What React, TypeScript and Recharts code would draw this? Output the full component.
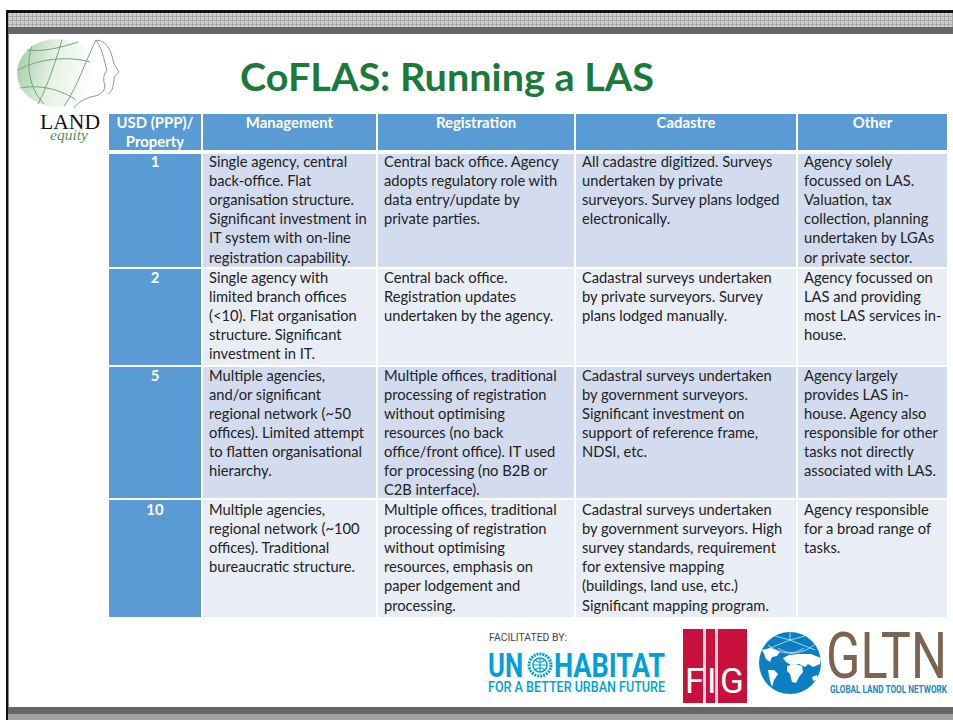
import React from "react";
import { ComposedChart, XAxis, YAxis, ReferenceArea, Scatter, Customized } from "recharts";

const title = "CoFLAS: Running a LAS";
const headerCells = [["USD (PPP)/", "Property"], ["Management"], ["Registration"], ["Cadastre"], ["Other"]];
const usdPerProperty = ["1", "2", "5", "10"];
const managementCells = [
  ["Single agency, central", "back-office. Flat", "organisation structure.", "Significant investment in", "IT system with on-line", "registration capability."],
  ["Single agency with", "limited branch offices", "(<10). Flat organisation", "structure. Significant", "investment in IT."],
  ["Multiple agencies,", "and/or significant", "regional network (~50", "offices). Limited attempt", "to flatten organisational", "hierarchy."],
  ["Multiple agencies,", "regional network (~100", "offices). Traditional", "bureaucratic structure."],
];
const registrationCells = [
  ["Central back office. Agency", "adopts regulatory role with", "data entry/update by", "private parties."],
  ["Central back office.", "Registration updates", "undertaken by the agency."],
  ["Multiple offices, traditional", "processing of registration", "without optimising", "resources (no back", "office/front office). IT used", "for processing (no B2B or", "C2B interface)."],
  ["Multiple offices, traditional", "processing of registration", "without optimising", "resources, emphasis on", "paper lodgement and", "processing."],
];
const cadastreCells = [
  ["All cadastre digitized. Surveys", "undertaken by private", "surveyors. Survey plans lodged", "electronically."],
  ["Cadastral surveys undertaken", "by private surveyors. Survey", "plans lodged manually."],
  ["Cadastral surveys undertaken", "by government surveyors.", "Significant investment on", "support of reference frame,", "NDSI, etc."],
  ["Cadastral surveys undertaken", "by government surveyors. High", "survey standards, requirement", "for extensive mapping", "(buildings, land use, etc.)", "Significant mapping program."],
];
const otherCells = [
  ["Agency solely", "focussed on LAS.", "Valuation, tax", "collection, planning", "undertaken by LGAs", "or private sector."],
  ["Agency focussed on", "LAS and providing", "most LAS services in-", "house."],
  ["Agency largely", "provides LAS in-", "house. Agency also", "responsible for other", "tasks not directly", "associated with LAS."],
  ["Agency responsible", "for a broad range of", "tasks."],
];
const bodyColumns = [managementCells, registrationCells, cadastreCells, otherCells];

const W = 953, H = 720;
const colEdges = [[109, 201], [203, 376], [378, 574], [576, 796], [798, 947]];
const rowEdges = [[154, 267], [269, 365], [367, 498], [500, 617]];
const rowPad = [13, 14, 13.5, 15];
const FONT = "Lato, sans-serif";
const SIZE = 14.7;
const HEAD_SIZE = 14.9;
const LINE = 19.1;
const HEAD = "#5b9bd5";
const ODD = "#d2dcee";
const EVEN = "#e9edf6";
const INK = "#222";

function cellShape(fill: string, lines: string[], pad: number, head = false) {
  return (p: any) => (
    <g>
      <rect x={p.x} y={p.y} width={p.width} height={p.height} fill={fill} />
      {lines.map((t, i) => (
        <text
          key={i}
          x={head ? p.x + p.width / 2 : p.x + 6}
          y={p.y + pad + i * LINE}
          textAnchor={head ? "middle" : "start"}
          fontFamily={FONT}
          fontSize={head ? HEAD_SIZE : SIZE}
          fontWeight={head ? 700 : 400}
          fill={head ? "#fff" : INK}
        >
          {t}
        </text>
      ))}
    </g>
  );
}

const Decor = () => (
  <g>
    <defs>
      <pattern id="hatch" width="4" height="4" patternUnits="userSpaceOnUse">
        <rect width="4" height="4" fill="#cfcfcf" />
        <path d="M0 0.5H4M0.5 0V4" stroke="#a9a9a9" strokeWidth="1" />
      </pattern>
      <linearGradient id="globeFill" x1="0" x2="1" y1="0.3" y2="0.5">
        <stop offset="0" stopColor="#a5cfa8" />
        <stop offset="0.45" stopColor="#e6f1e6" />
        <stop offset="1" stopColor="#ffffff" />
      </linearGradient>
    </defs>
    <rect x={6} y={10} width={947} height={3} fill="#111" />
    <rect x={6} y={10} width={2.5} height={710} fill="#111" />
    <rect x={8} y={13} width={945} height={14} fill="url(#hatch)" />
    <rect x={8} y={27} width={945} height={7} fill="#666" />
    <rect x={8} y={707} width={945} height={7} fill="#666" />
    <rect x={8} y={714} width={945} height={6} fill="#a0a0a0" />

    <text x={240} y={91} fontFamily={FONT} fontSize={38} fontWeight={700} fill="#1a7a3a" textLength={414} lengthAdjust="spacingAndGlyphs">{title}</text>

    <ellipse cx={57} cy={73} rx={40} ry={34} fill="url(#globeFill)" />
    <g fill="none" stroke="#6fa877" strokeWidth="1">
      <path d="M32 46C26 62 28 88 44 104" />
      <path d="M18 70C40 58 70 56 90 62" />
      <path d="M20 88C40 84 62 90 76 100" />
      <path d="M27 50C42 52 60 48 78 42" />
      <path d="M62 40C56 60 48 85 38 104" />
    </g>
    <g fill="none" stroke="#888" strokeWidth="0.9">
      <path d="M96 40C85 62 78 86 64 106" />
      <path d="M96 40C104 52 104 62 107 70C103 75 103 80 105 86C104 92 100 95 95 96C85 98 78 102 74 108" />
      <path d="M97 40C110 42 112 56 114 64L119 72C116 75 114 76 114 80C113 88 112 92 108 94" />
    </g>
    <text x={40} y={129} fontFamily="Liberation Serif, serif" fontSize={22} fill="#111" textLength={60} lengthAdjust="spacingAndGlyphs">LAND</text>
    <text x={50} y={140} fontFamily="Liberation Serif, serif" fontStyle="italic" fontSize={14} fill="#4f9159" textLength={38} lengthAdjust="spacingAndGlyphs">equity</text>

    <text x={489} y={641} fontFamily="Roboto, sans-serif" fontSize={10.5} fill="#444" textLength={78} lengthAdjust="spacingAndGlyphs">FACILITATED BY:</text>
    <text x={488} y={677} fontFamily="Roboto, sans-serif" fontWeight={700} fontSize={33} fill="#00a0dc" textLength={35} lengthAdjust="spacingAndGlyphs">UN</text>
    <circle cx={540} cy={665} r={11} fill="none" stroke="#00a0dc" strokeWidth={3} strokeDasharray="2 1" />
    <circle cx={540} cy={665} r={7} fill="none" stroke="#00a0dc" strokeWidth={1.5} />
    <path d="M540 658V672M533 665H547M535 660C538 663 542 663 545 660M535 670C538 667 542 667 545 670" fill="none" stroke="#00a0dc" strokeWidth={1.2} />
    <text x={554} y={677} fontFamily="Roboto, sans-serif" fontWeight={700} fontSize={33} fill="#00a0dc" textLength={111} lengthAdjust="spacingAndGlyphs">HABITAT</text>
    <text x={488} y={692} fontFamily="Roboto, sans-serif" fontWeight={500} fontSize={14} fill="#00a0dc" textLength={177} lengthAdjust="spacingAndGlyphs">FOR A BETTER URBAN FUTURE</text>

    <rect x={683} y={629} width={64} height={74} fill="#c8103c" />
    <rect x={703} y={629} width={3} height={74} fill="#f3d5da" />
    <rect x={715} y={629} width={3} height={74} fill="#f3d5da" />
    <text x={685} y={693} fontFamily="Roboto, sans-serif" fontSize={35} fill="#fff">F</text>
    <text x={707} y={693} fontFamily="Roboto, sans-serif" fontSize={35} fill="#fff">I</text>
    <text x={720} y={693} fontFamily="Roboto, sans-serif" fontSize={35} fill="#fff">G</text>

    <circle cx={790} cy={663} r={31} fill="#0a7fc2" />
    <g fill="none" stroke="#cfe6f5" strokeWidth="0.8">
      <path d="M790 640L775 636M790 640L790 632M790 640L805 636M790 640L815 650M790 640L765 650" />
      <path d="M778 648C786 654 796 654 804 648" />
      <path d="M768 645C782 656 800 656 814 645" />
    </g>
    <g fill="#fff">
      <path d="M762 650l9-2 9 4-3 4-5 1-2 5-4-3-2-5z" />
      <path d="M783 658l6-3 10-1 12 0 10 4-1 6-7 3-5-3-3 3-6-3-8 1-5-3z" />
      <path d="M787 666l8-2 7 2 1 6-4 5-3 6-4-1-2-8-3-3z" />
      <path d="M768 670l6 0 4 4-4 6-2 7-2-6z" />
      <path d="M812 677l5-2 1 4-5 2z" />
    </g>
    <text x={826} y={678} fontFamily="Roboto, sans-serif" fontWeight={400} fontSize={64} fill="#7d6450" textLength={121} lengthAdjust="spacingAndGlyphs">GLTN</text>
    <text x={830} y={693} fontFamily="Roboto, sans-serif" fontWeight={700} fontSize={11} fill="#1b87c9" textLength={117} lengthAdjust="spacingAndGlyphs">GLOBAL LAND TOOL NETWORK</text>
  </g>
);

export default function App() {
  return (
    <div style={{ position: "absolute", left: 0, top: 0, width: W, height: H, background: "#fff" }}>
      <ComposedChart width={W} height={H} margin={{ top: 0, right: 0, bottom: 0, left: 0 }} data={[{ v: 0, y: 0 }]}>
        <XAxis type="number" dataKey="v" domain={[0, W]} allowDataOverflow hide />
        <YAxis type="number" dataKey="y" domain={[0, H]} allowDataOverflow reversed hide width={0} />
        <Scatter dataKey="y" isAnimationActive={false} fill="none" />
        <Customized component={Decor} />
        {headerCells.map((lines, c) => (
          <ReferenceArea key={`h${c}`} x1={colEdges[c][0]} x2={colEdges[c][1]} y1={114} y2={150} ifOverflow="visible"
            shape={cellShape(HEAD, lines, 14, true)} />
        ))}
        {usdPerProperty.map((v, r) => (
          <ReferenceArea key={`u${r}`} x1={colEdges[0][0]} x2={colEdges[0][1]} y1={rowEdges[r][0]} y2={rowEdges[r][1]} ifOverflow="visible"
            shape={cellShape(HEAD, [v], rowPad[r], true)} />
        ))}
        {bodyColumns.map((col, c) =>
          col.map((lines, r) => (
            <ReferenceArea key={`c${c}${r}`} x1={colEdges[c + 1][0]} x2={colEdges[c + 1][1]} y1={rowEdges[r][0]} y2={rowEdges[r][1]} ifOverflow="visible"
              shape={cellShape(r % 2 === 0 ? ODD : EVEN, lines, rowPad[r])} />
          ))
        )}
      </ComposedChart>
    </div>
  );
}
